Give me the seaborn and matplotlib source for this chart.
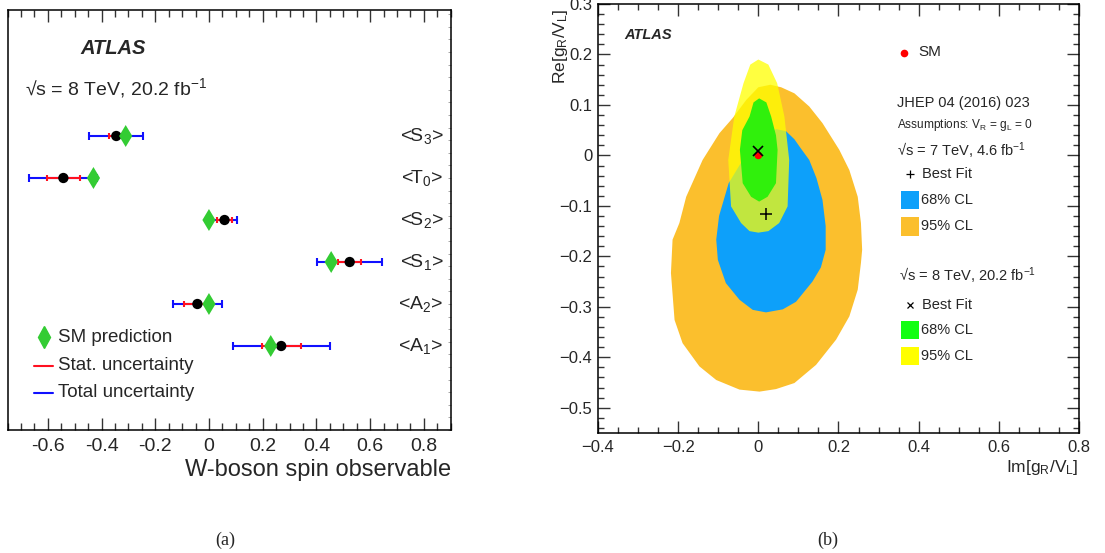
import numpy as np
import pandas as pd
import matplotlib
matplotlib.use("Agg")
import matplotlib.pyplot as plt
import seaborn as sns
from matplotlib.ticker import MultipleLocator, FixedLocator, FixedFormatter
from matplotlib.patches import Rectangle

# ---------------- data: panel (a) ----------------
observables = [r"<A$_1$>", r"<A$_2$>", r"<S$_1$>", r"<S$_2$>", r"<T$_0$>", r"<S$_3$>"]
measured = [0.269, -0.043, 0.524, 0.058, -0.542, -0.345]
stat_unc = [0.073, 0.050, 0.042, 0.029, 0.062, 0.027]
total_unc = [0.180, 0.092, 0.120, 0.048, 0.127, 0.100]
sm_pred = [0.230, 0.000, 0.455, 0.000, -0.430, -0.310]
a_xticks = [-0.6, -0.4, -0.2, 0.0, 0.2, 0.4, 0.6, 0.8]
a_xticklabels = ["-0.6", "-0.4", "-0.2", "0", "0.2", "0.4", "0.6", "0.8"]

# ---------------- data: panel (b) ----------------
# 7 TeV, 95% CL contour
cl95_7_x = [0.030, 0.057, 0.090, 0.127, 0.160, 0.202, 0.227, 0.248, 0.256, 0.259, 0.256, 0.248,
            0.227, 0.194, 0.144, 0.090, 0.044, 0.003, -0.047, -0.105, -0.147, -0.189, -0.209,
            -0.218, -0.214, -0.197, -0.180, -0.139, -0.097, -0.064, -0.030, 0.000]
cl95_7_y = [0.140, 0.135, 0.123, 0.097, 0.064, 0.011, -0.029, -0.082, -0.134, -0.187, -0.213, -0.266,
            -0.319, -0.365, -0.415, -0.451, -0.463, -0.468, -0.464, -0.445, -0.418, -0.372, -0.326,
            -0.233, -0.167, -0.134, -0.082, -0.009, 0.044, 0.074, 0.110, 0.135]
# 7 TeV, 68% CL contour
cl68_7_x = [-0.039, -0.010, 0.020, 0.045, 0.069, 0.090, 0.105, 0.127, 0.145, 0.160, 0.168, 0.168,
            0.156, 0.135, 0.094, 0.061, 0.019, -0.014, -0.047, -0.081, -0.101, -0.105, -0.098, -0.074]
cl68_7_y = [-0.009, 0.025, 0.045, 0.052, 0.048, 0.032, 0.015, -0.009, -0.045, -0.088, -0.140, -0.187,
            -0.222, -0.250, -0.290, -0.305, -0.311, -0.306, -0.286, -0.253, -0.207, -0.167, -0.120, -0.055]
# 8 TeV, 95% CL contour
cl95_8_x = [0.000, 0.025, 0.047, 0.065, 0.077, 0.073, 0.052, 0.025, 0.000, -0.022, -0.043, -0.068,
            -0.075, -0.060, -0.037, -0.020]
cl95_8_y = [0.190, 0.180, 0.143, 0.077, -0.009, -0.101, -0.134, -0.150, -0.153, -0.150, -0.134, -0.101,
            -0.009, 0.077, 0.143, 0.180]
# 8 TeV, 68% CL contour
cl68_8_x = [0.002, 0.020, 0.032, 0.044, 0.048, 0.044, 0.023, 0.002, -0.018, -0.039, -0.046, -0.040,
            -0.022, -0.012]
cl68_8_y = [0.113, 0.105, 0.077, 0.040, 0.011, -0.055, -0.082, -0.0915, -0.082, -0.055, 0.011, 0.050,
            0.077, 0.105]
sm_point = (0.0, 0.0)
bestfit_8 = (0.0, 0.008)
bestfit_7 = (0.019, -0.117)
b_xticks = [-0.4, -0.2, 0.0, 0.2, 0.4, 0.6, 0.8]
b_xticklabels = ["\u22120.4", "\u22120.2", "0", "0.2", "0.4", "0.6", "0.8"]
b_yticks = [-0.5, -0.4, -0.3, -0.2, -0.1, 0.0, 0.1, 0.2, 0.3]
b_yticklabels = ["\u22120.5", "\u22120.4", "\u22120.3", "\u22120.2", "\u22120.1", "0", "0.1", "0.2", "0.3"]

# ---------------- style ----------------
sns.set_theme(style="ticks")
plt.rcParams["font.family"] = ["Liberation Sans", "DejaVu Sans"]
plt.rcParams["mathtext.fontset"] = "custom"
plt.rcParams["mathtext.rm"] = "Liberation Sans"
plt.rcParams["mathtext.it"] = "Liberation Sans:italic"
plt.rcParams["mathtext.bf"] = "Liberation Sans:bold"
plt.rcParams["axes.linewidth"] = 1.1
plt.rcParams["axes.edgecolor"] = "black"

C_ORANGE = "#fbbf2d"
C_BLUE = "#0da0fa"
C_YELLOW = "#ffff00"
C_GREEN = "#30f00c"

W, H = 1105, 553
fig = plt.figure(figsize=(W / 100, H / 100), dpi=100)

# ================= panel (a) =================
axa = fig.add_axes([7.5 / W, 1 - 430 / H, 443.2 / W, 420 / H])
rows = np.arange(2, 2 + len(observables))
df = pd.DataFrame({"obs": observables, "row": rows, "meas": measured,
                   "stat": stat_unc, "tot": total_unc, "sm": sm_pred})

axa.errorbar(df["meas"], df["row"], xerr=df["tot"], fmt="none", ecolor="#1010ff",
             elinewidth=1.5, capsize=2.6, capthick=1.5, zorder=2)
axa.errorbar(df["meas"], df["row"], xerr=df["stat"], fmt="none", ecolor="#ff1020",
             elinewidth=1.5, capsize=2.2, capthick=1.5, zorder=3)
sns.scatterplot(data=df, x="meas", y="row", ax=axa, color="black", marker="o",
                s=55, edgecolor="none", zorder=4, legend=False)
sns.scatterplot(data=df, x="sm", y="row", ax=axa, color="#33cc33", marker="d",
                s=125, edgecolor="none", zorder=5, legend=False)

for lab, r in zip(observables, rows):
    axa.text(0.873, r, lab, ha="right", va="center", fontsize=14)

axa.set_xlim(-0.75, 0.9)
axa.set_ylim(0, 10)
axa.xaxis.set_major_locator(FixedLocator(a_xticks))
axa.xaxis.set_major_formatter(FixedFormatter(a_xticklabels))
axa.xaxis.set_minor_locator(MultipleLocator(0.05))
axa.yaxis.set_major_locator(FixedLocator([]))
axa.yaxis.set_minor_locator(MultipleLocator(0.3))
axa.tick_params(axis="x", which="both", direction="in", top=True, bottom=True,
                labelsize=14, pad=6, width=1.0, color="#333333")
axa.tick_params(axis="x", which="major", length=8.6)
axa.tick_params(axis="x", which="minor", length=5)
axa.tick_params(axis="y", which="minor", direction="in", left=False, right=True,
                length=2, width=0.6, color="#999999")
axa.set_xlabel("")
axa.set_ylabel("")
axa.text(1.0, -0.095, "W-boson spin observable", transform=axa.transAxes,
         ha="right", va="center", fontsize=17)
axa.text(0.1636, 0.9095, "ATLAS", transform=axa.transAxes, ha="left", va="center",
         fontsize=14.5, fontweight="bold", fontstyle="italic")
axa.text(0.0395, 0.814, "\u221As = 8 TeV, 20.2 fb$^{-1}$", transform=axa.transAxes,
         ha="left", va="center", fontsize=14)

# legend (a)
axa.plot([0.0824], [0.2214], marker="d", ms=11, color="#33cc33", ls="none",
         transform=axa.transAxes)
axa.plot([0.0605, 0.1033], [0.1524, 0.1524], color="#ff1020", lw=1.5, transform=axa.transAxes)
axa.plot([0.0605, 0.1033], [0.0881, 0.0881], color="#1010ff", lw=1.5, transform=axa.transAxes)
axa.text(0.1146, 0.2214, "SM prediction", transform=axa.transAxes, va="center", fontsize=13.5)
axa.text(0.1146, 0.1524, "Stat. uncertainty", transform=axa.transAxes, va="center", fontsize=13.5)
axa.text(0.1146, 0.0881, "Total uncertainty", transform=axa.transAxes, va="center", fontsize=13.5)

# ================= panel (b) =================
axb = fig.add_axes([598 / W, 1 - 433 / H, 481 / W, 429 / H])
axb.fill(cl95_7_x, cl95_7_y, color=C_ORANGE, lw=0, zorder=1)
axb.fill(cl68_7_x, cl68_7_y, color=C_BLUE, lw=0, zorder=2)
axb.fill(cl95_8_x, cl95_8_y, color=C_YELLOW, alpha=0.75, lw=0, zorder=3)
axb.fill(cl68_8_x, cl68_8_y, color=C_GREEN, lw=0, zorder=4)

pts = pd.DataFrame({"x": [sm_point[0]], "y": [sm_point[1]]})
sns.scatterplot(data=pts, x="x", y="y", ax=axb, color="red", s=30, edgecolor="none",
                zorder=6, legend=False)
axb.plot([bestfit_8[0]], [bestfit_8[1]], marker="x", ms=7, mew=1.2, color="black",
         ls="none", zorder=7)
axb.plot([bestfit_7[0]], [bestfit_7[1]], marker="+", ms=8, mew=1.1, color="black",
         ls="none", zorder=7)

axb.set_xlim(-0.4, 0.8)
axb.set_ylim(-0.55, 0.3)
axb.xaxis.set_major_locator(FixedLocator(b_xticks))
axb.xaxis.set_major_formatter(FixedFormatter(b_xticklabels))
axb.xaxis.set_minor_locator(MultipleLocator(0.05))
axb.yaxis.set_major_locator(FixedLocator(b_yticks))
axb.yaxis.set_major_formatter(FixedFormatter(b_yticklabels))
axb.yaxis.set_minor_locator(MultipleLocator(0.02))
axb.tick_params(which="both", direction="in", top=True, right=True, labelsize=12,
                width=1.0, color="#333333")
axb.tick_params(which="major", length=8.6)
axb.tick_params(which="minor", length=4.3)
axb.tick_params(axis="x", pad=5)
axb.tick_params(axis="y", pad=4)
axb.set_xlabel("")
axb.set_ylabel("")
for sp in axb.spines.values():
    sp.set_zorder(10)

axb.text(1.0, -0.08, r"Im[g$_{\mathrm{R}}$/V$_{\mathrm{L}}$]", transform=axb.transAxes,
         ha="right", va="center", fontsize=12.5)
axb.text(-0.077, 0.99, r"Re[g$_{\mathrm{R}}$/V$_{\mathrm{L}}$]", transform=axb.transAxes,
         ha="center", va="top", rotation=90, fontsize=12.5)
axb.text(0.054, 0.928, "ATLAS", transform=axb.transAxes, ha="left", va="center",
         fontsize=10.5, fontweight="bold", fontstyle="italic")

# legend (b)
T = axb.transAxes
axb.plot([0.636], [0.886], marker="o", ms=5.5, color="red", mec="none", transform=T,
         ls="none", zorder=8)
axb.text(0.665, 0.888, "SM", transform=T, va="center", fontsize=11)
axb.text(0.622, 0.769, "JHEP 04 (2016) 023", transform=T, va="center", fontsize=10.5)
axb.text(0.622, 0.718, r"Assumptions: V$_{\mathrm{R}}$ = g$_{\mathrm{L}}$ = 0", transform=T,
         va="center", fontsize=8.6)
axb.text(0.622, 0.657, "\u221As = 7 TeV, 4.6 fb$^{-1}$", transform=T, va="center", fontsize=10.5)
axb.plot([0.649], [0.604], marker="+", ms=6, mew=0.9, color="black", transform=T, ls="none")
axb.text(0.674, 0.604, "Best Fit", transform=T, va="center", fontsize=10.5)
axb.add_patch(Rectangle((0.630, 0.522), 0.037, 0.042, transform=T, color=C_BLUE, lw=0, zorder=8))
axb.text(0.672, 0.543, "68% CL", transform=T, va="center", fontsize=10.5)
axb.add_patch(Rectangle((0.630, 0.459), 0.037, 0.044, transform=T, color=C_ORANGE, lw=0, zorder=8))
axb.text(0.672, 0.483, "95% CL", transform=T, va="center", fontsize=10.5)
axb.text(0.626, 0.366, "\u221As = 8 TeV, 20.2 fb$^{-1}$", transform=T, va="center", fontsize=10.5)
axb.plot([0.649], [0.298], marker="x", ms=5, mew=0.9, color="black", transform=T, ls="none")
axb.text(0.674, 0.298, "Best Fit", transform=T, va="center", fontsize=10.5)
axb.add_patch(Rectangle((0.630, 0.219), 0.037, 0.042, transform=T, color="#11ff11", lw=0, zorder=8))
axb.text(0.672, 0.240, "68% CL", transform=T, va="center", fontsize=10.5)
axb.add_patch(Rectangle((0.630, 0.159), 0.037, 0.041, transform=T, color=C_YELLOW, lw=0, zorder=8))
axb.text(0.672, 0.179, "95% CL", transform=T, va="center", fontsize=10.5)

# captions
fig.text(225 / W, 1 - 540 / H, "(a)", ha="center", va="center", fontsize=13,
         family=["Liberation Serif", "DejaVu Serif"])
fig.text(828 / W, 1 - 540 / H, "(b)", ha="center", va="center", fontsize=13,
         family=["Liberation Serif", "DejaVu Serif"])

fig.savefig("out.png", dpi=100, facecolor="white")
